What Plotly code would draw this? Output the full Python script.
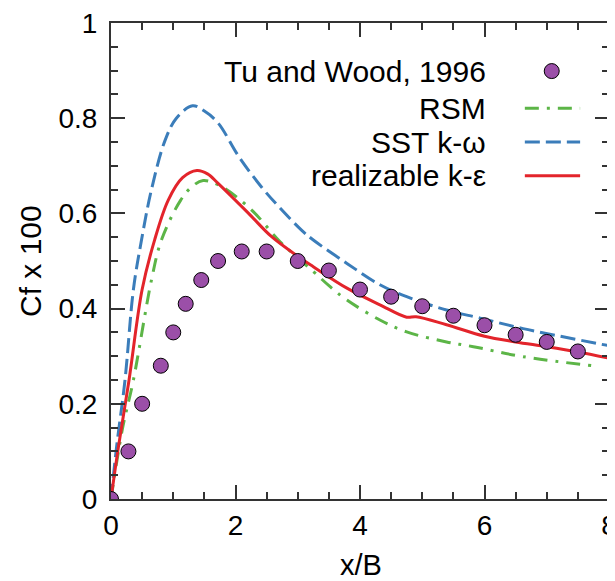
import plotly.graph_objects as go

# Tu and Wood (1996) measurements
exp_x = [0, 0.28, 0.5, 0.8, 1.0, 1.2, 1.45, 1.72, 2.1, 2.5, 3.0, 3.5, 4.0, 4.5, 5.0, 5.5, 6.0, 6.5, 7.0, 7.5]
exp_y = [0, 0.1, 0.2, 0.28, 0.35, 0.41, 0.46, 0.5, 0.52, 0.52, 0.5, 0.48, 0.44, 0.425, 0.405, 0.385, 0.365, 0.345,
         0.33, 0.31]

# RSM
rsm_x = [0, 0.18, 0.36, 0.65, 0.81, 1.12, 1.3, 1.48, 1.78, 2.26, 2.72, 3.25, 3.52, 3.79, 4.32, 4.75, 5.39, 5.82,
         6.62, 7.8]
rsm_y = [0, 0.145, 0.25, 0.46, 0.544, 0.628, 0.656, 0.669, 0.656, 0.607, 0.54, 0.478, 0.446, 0.418, 0.376, 0.351,
         0.33, 0.32, 0.299, 0.279]

# SST k-omega
sst_x = [0, 0.09, 0.225, 0.36, 0.49, 0.65, 0.87, 1.05, 1.31, 1.5, 1.72, 2.05, 2.42, 2.71, 3.06, 3.25, 3.79, 4.32,
         4.75, 5.39, 5.93, 6.62, 8.0]
sst_y = [0, 0.11, 0.25, 0.44, 0.544, 0.65, 0.754, 0.8, 0.826, 0.815, 0.79, 0.72, 0.655, 0.612, 0.565, 0.544, 0.495,
         0.45, 0.425, 0.397, 0.38, 0.358, 0.322]

# realizable k-epsilon
rke_x = [0, 0.12, 0.29, 0.5, 0.7, 0.92, 1.15, 1.38, 1.55, 1.72, 2.21, 2.58, 3.01, 3.25, 3.79, 4.32, 4.75, 4.9, 5.39,
         6.0, 6.5, 7.0, 7.5, 8.0]
rke_y = [0, 0.11, 0.25, 0.44, 0.544, 0.628, 0.675, 0.69, 0.683, 0.663, 0.6, 0.551, 0.509, 0.488, 0.443, 0.408, 0.382,
         0.383, 0.366, 0.342, 0.33, 0.32, 0.309, 0.296]

legend_labels = ['Tu and Wood, 1996', 'RSM', 'SST k-ω', 'realizable k-ε']

purple = '#9b4fa8'
green = '#5cb547'
blue = '#3b7dba'
red = '#e3242b'
font = 'Liberation Sans, Arial, sans-serif'

fig = go.Figure()
fig.add_trace(go.Scatter(x=rsm_x, y=rsm_y, mode='lines', line_shape='spline',
                         line=dict(color=green, width=3, dash='14px,8px,3px,8px')))
fig.add_trace(go.Scatter(x=sst_x, y=sst_y, mode='lines', line_shape='spline',
                         line=dict(color=blue, width=3, dash='15px,6px')))
fig.add_trace(go.Scatter(x=rke_x, y=rke_y, mode='lines', line_shape='spline', line=dict(color=red, width=3)))
fig.add_trace(go.Scatter(x=exp_x, y=exp_y, mode='markers',
                         marker=dict(color=purple, size=15, line=dict(color='black', width=1))))

# hand-made legend: text right aligned, sample on the right
rows_y = [0.899, 0.821, 0.75, 0.679]
for lab, yy in zip(legend_labels, rows_y):
    fig.add_annotation(x=0.757, y=yy, xref='paper', yref='paper', text=lab, showarrow=False,
                       xanchor='right', yanchor='middle', font=dict(family=font, size=30, color='black'))
fig.add_shape(type='circle', xref='paper', yref='paper', xsizemode='pixel', ysizemode='pixel',
              xanchor=0.885, yanchor=rows_y[0], x0=-7.5, x1=7.5, y0=-7.5, y1=7.5,
              fillcolor=purple, line=dict(color='black', width=1))
for yy, col, dash in zip(rows_y[1:], [green, blue, red], ['14px,8px,3px,8px', '15px,6px', 'solid']):
    fig.add_shape(type='line', xref='paper', yref='paper', x0=0.831, x1=0.942, y0=yy, y1=yy,
                  line=dict(color=col, width=3, dash=dash))

# axis titles
fig.add_annotation(x=0.502, y=0, xref='paper', yref='paper', yshift=-66, text='x/B', showarrow=False,
                   xanchor='center', yanchor='middle', font=dict(family=font, size=29, color='black'))
fig.add_annotation(x=0, y=0.5, xref='paper', yref='paper', xshift=-81, text='Cf x 100', showarrow=False,
                   textangle=-90, xanchor='center', yanchor='middle', font=dict(family=font, size=30, color='black'))

axis_style = dict(showgrid=False, zeroline=False, showline=True, linecolor='#333333', linewidth=2,
                  mirror='allticks', ticks='inside', ticklen=14, tickwidth=1.5, tickcolor='#333333',
                  automargin=False, ticklabeloverflow='allow',
                  tickfont=dict(family=font, size=28, color='black'))

fig.update_xaxes(range=[0, 8], dtick=2, tick0=0, ticklabelstandoff=0,
                 minor=dict(dtick=0.5, ticklen=7, tickwidth=1.5, tickcolor='#333333', ticks='inside'),
                 **axis_style)
fig.update_yaxes(range=[0, 1], dtick=0.2, tick0=0, ticklabelstandoff=6,
                 minor=dict(dtick=0.05, ticklen=7, tickwidth=1.5, tickcolor='#333333', ticks='inside'),
                 **axis_style)

# the page adds an 8px body margin, so the figure is laid out 8px up/left of the reference
fig.update_layout(width=615, height=581, margin=dict(l=103, r=14, t=15, b=90),
                  plot_bgcolor='white', paper_bgcolor='white', showlegend=False)

fig.write_html("out.html")
